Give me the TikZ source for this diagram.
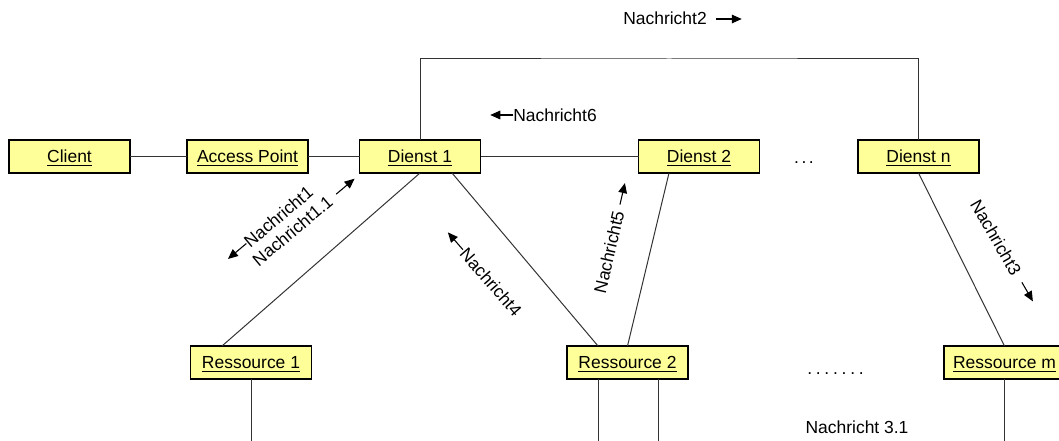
\documentclass[tikz,border=0pt]{standalone}
\usepackage{fontspec}
\setmainfont{Liberation Sans}
\usetikzlibrary{calc,arrows.meta}
\definecolor{boxfill}{HTML}{FFFF99}
\definecolor{linkgray}{HTML}{333333}
\begin{document}
\begin{tikzpicture}[x=0.75pt,y=-0.75pt,
  every node/.style={font=\fontsize{13.1}{15}\selectfont, inner sep=0pt, outer sep=0pt},
  comp/.style={draw=black, line width=1.2pt, fill=boxfill,
    minimum width=90.75pt, minimum height=24.75pt,
    text height=9.4pt, text depth=0pt},
  link/.style={draw=linkgray, line width=0.75pt},
  msgarrow/.style={draw=black, line width=0.8pt, -{Triangle[length=7.5pt,width=6.5pt]}}]
\useasboundingbox (0,0) rectangle (1059,441);
\clip (0,0) rectangle (1059,441);

% components
\node[comp] (client) at (69.5,156.5)  {\underline{Client}};
\node[comp] (ap)     at (247.5,156.5) {\underline{Access Point}};
\node[comp] (d1)     at (420,156.5)   {\underline{Dienst 1}};
\node[comp] (d2)     at (699,156.5)   {\underline{Dienst 2}};
\node[comp] (dn)     at (918.5,156.5) {\underline{Dienst n}};
\node[comp] (r1)     at (251,362.5)   {\underline{Ressource 1}};
\node[comp] (r2)     at (627.5,362.5) {\underline{Ressource 2}};
\node[comp] (rm)     at (1004.5,362.5){\underline{Ressource m}};

% free ends at the lower edge
\coordinate (r1b)  at (251,441);
\coordinate (r2bl) at (598,441);
\coordinate (r2br) at (658,441);
\coordinate (rmb)  at (1004.5,441);
\coordinate (ftop) at (669,59);

% connections
\draw[link] (client.east) -- (ap.west);
\draw[link] (ap.east) -- (d1.west);
\draw[link] (d1.east) -- (d2.west);
\draw[link] (d1.north) |- (ftop) -| (dn.north);
\draw[link] (d1.south) -- ($(r1.north)+(-29,0)$);
\draw[link] ($(d1.south)+(32,0)$) -- ($(r2.north)+(-29.5,0)$);
\draw[link] ($(d2.south)+(-30,0)$) -- (r2.north);
\draw[link] (dn.south) -- (rm.north);
\draw[link] (r1.south) -- (r1b);
\draw[link] ($(r2.south)+(-29.5,0)$) -- (r2bl);
\draw[link] ($(r2.south)+(30.5,0)$) -- (r2br);
\draw[link] (rm.south) -- (rmb);

% messages
\node (m2) at (665,18.5) {Nachricht2};
\draw[msgarrow] ($(m2.east)+(9,0.5)$) -- ++(26,0);

\node (m6) at (555,115) {Nachricht6};
\draw[msgarrow] (m6.west) -- ++(-23,0);

\node[rotate=40] (m1) at (278.3,216.7) {Nachricht1};
\draw[msgarrow, shift={(m1.west)}, rotate=40] (0,0) -- (-24,0);
\node[rotate=40] (m11) at (292.5,230.8) {Nachricht1.1};
\draw[msgarrow, shift={(m11.east)}, rotate=40] (8,0) -- (32,0);

\node[rotate=-49] (m4) at (491,282) {Nachricht4};
\draw[msgarrow, shift={(m4.west)}, rotate=-49] (-1,0) -- (-24,0);

\node[rotate=77] (m5) at (609,252) {Nachricht5};
\draw[msgarrow, shift={(m5.east)}, rotate=77] (7,0) -- (29,0);

\node[rotate=-60] (m3) at (996,237.5) {Nachricht3};
\draw[msgarrow, shift={(m3.east)}, rotate=-60] (10,0) -- (32,0);

\node (m31) at (857,427) {Nachricht 3.1};

% ellipses
\node[anchor=base] (dots1) at (804,164) {.\hspace{1.9pt}.\hspace{1.9pt}.};
\node[anchor=base] (dots2) at (835.5,374.3) {.\hspace{2.8pt}.\hspace{2.8pt}.\hspace{2.8pt}.\hspace{2.8pt}.\hspace{2.8pt}.\hspace{2.8pt}.};
\end{tikzpicture}
\end{document}
